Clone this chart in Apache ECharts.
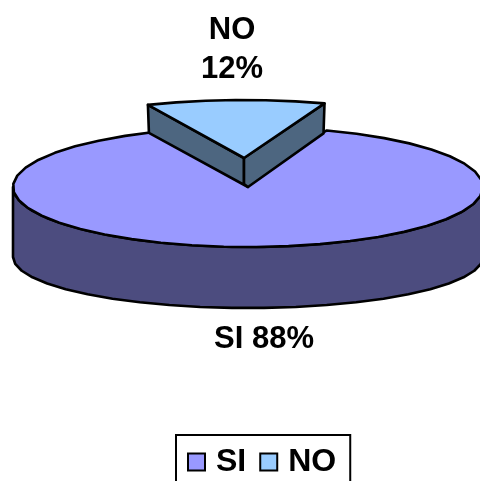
<!DOCTYPE html>
<html>
<head>
<meta charset="utf-8">
<style>html,body{margin:0;padding:0;background:#fff;overflow:hidden}#c{width:480px;height:481px}</style>
<script src="https://cdn.jsdelivr.net/npm/echarts@6/dist/echarts.min.js"></script>
</head>
<body>
<div id="c"></div>
<script>
// Survey answers
const categories = ['SI', 'NO'];
const shares = [88, 12];

const total = shares.reduce((a, b) => a + b, 0);
const rad = d => d * Math.PI / 180;
const FONT = '"Liberation Sans", Arial, sans-serif';
const LINE = 2.6;
const NO_MID_ANGLE = 92; // direction the smaller slice points, degrees

// Projected disc: top ellipse and base ellipse of the big slice, lifted ellipse for the pulled-out slice
const disc = { cx: 248, cy: 187, rx: 235, ry: 60 };
const base = { cx: 248, cy: 257, rx: 235, ry: 51 };
const wedge = { cx: 244, cy: 158, rx: 240, ry: 58, depth: 30 };

function rim(e, deg) {
  return [e.cx + e.rx * Math.cos(rad(deg)), e.cy - e.ry * Math.sin(rad(deg))];
}
function arc(e, from, to) {
  const pts = [];
  const n = Math.max(2, Math.ceil(Math.abs(to - from) / 8));
  for (let i = 0; i <= n; i++) {
    pts.push(rim(e, from + (to - from) * i / n));
  }
  return pts;
}
function poly(points, fill, z) {
  return {
    type: 'polygon', z2: z || 0, shape: { points },
    style: { fill, stroke: '#000', lineWidth: LINE, lineJoin: 'round' }
  };
}
function label(text, x, y) {
  return {
    type: 'text', z2: 20,
    style: { text, x, y, fill: '#000', font: 'bold 31px ' + FONT, align: 'center', verticalAlign: 'middle', lineHeight: 39 }
  };
}

function renderSi(params, api) {
  const sweep = api.value(0) / total * 360;
  const noSweep = 360 - sweep;
  const start = NO_MID_ANGLE + noSweep / 2;
  const end = start + sweep;
  const wall = arc(disc, 180, 360).concat(arc(base, 360, 180));
  // the notch vertex stays tucked under the pulled-out slice
  const top = arc(disc, start, end).concat([[disc.cx, disc.cy - 10]]);
  return {
    type: 'group',
    children: [
      poly(wall, '#4C4C7F', 1),
      poly(top, '#9999FF', 2),
      label(categories[0] + ' ' + api.value(0) + '%', 264, 339)
    ]
  };
}

function renderNo(params, api) {
  const sweep = api.value(0) / total * 360;
  const a0 = NO_MID_ANGLE - sweep / 2;
  const a1 = NO_MID_ANGLE + sweep / 2;
  const apex = [wedge.cx, wedge.cy];
  const apexLow = [wedge.cx + 4, wedge.cy + wedge.depth - 1];
  const left = rim(wedge, a1);
  const right = rim(wedge, a0);
  const leftLow = [left[0] + 1, left[1] + wedge.depth - 2];
  const rightLow = [right[0] - 1, right[1] + wedge.depth];
  const seam = [apex[0], apex[1] + wedge.depth - 4];
  return {
    type: 'group',
    children: [
      poly([left, apex, seam, apexLow, leftLow], '#4D6680', 3),
      poly([apex, right, rightLow, apexLow, seam], '#4D6680', 4),
      poly(arc(wedge, a0, a1).concat([apex]), '#99CCFF', 5),
      label(categories[1] + '\n' + api.value(0) + '%', 232, 50)
    ]
  };
}

const colors = ['#9999FF', '#99CCFF'];
const renderers = [renderSi, renderNo];

const chart = echarts.init(document.getElementById('c'), null, { renderer: 'canvas' });
chart.setOption({
  animation: false,
  legend: {
    data: categories,
    left: 176,
    top: 435,
    orient: 'horizontal',
    icon: 'rect',
    itemWidth: 17,
    itemHeight: 17,
    itemGap: 13,
    padding: [11, 14, 30, 11],
    borderColor: '#000',
    borderWidth: 2,
    borderRadius: 0,
    backgroundColor: '#fff',
    textStyle: { color: '#000', fontFamily: FONT, fontWeight: 'bold', fontSize: 32, padding: [0, 0, 0, 6] }
  },
  series: categories.map((name, i) => ({
    type: 'custom',
    name,
    coordinateSystem: 'none',
    silent: true,
    itemStyle: { color: colors[i], borderColor: '#000', borderWidth: 2 },
    data: [[shares[i]]],
    renderItem: renderers[i]
  }))
});
</script>
</body>
</html>
